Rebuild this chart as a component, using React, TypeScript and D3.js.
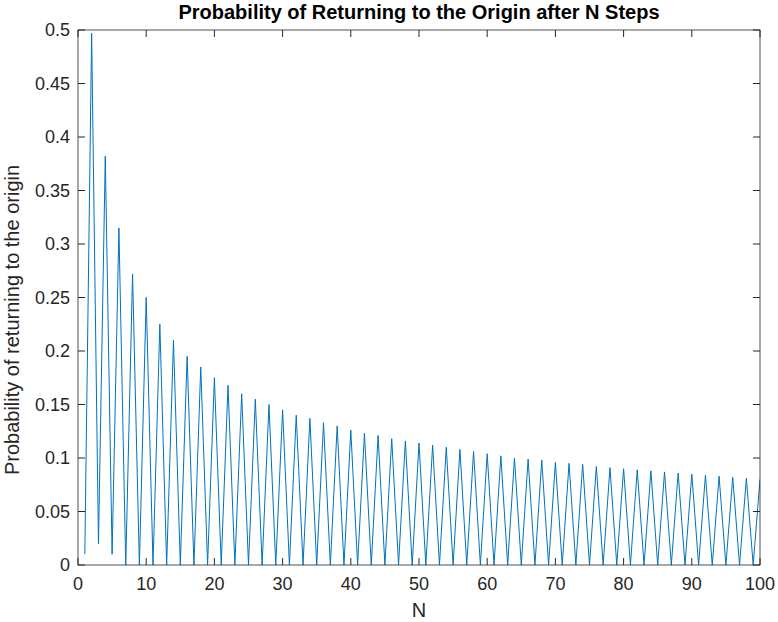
import { useEffect, useRef } from 'react';
import * as d3 from 'd3';

// peak probability at each even N (2, 4, ..., 100)
const evenPeaks = [
  0.497, 0.382, 0.315, 0.272, 0.25, 0.225, 0.21, 0.195, 0.185, 0.175,
  0.168, 0.16, 0.155, 0.15, 0.145, 0.14, 0.137, 0.133, 0.13, 0.126,
  0.123, 0.121, 0.118, 0.116, 0.114, 0.112, 0.11, 0.108, 0.106, 0.104,
  0.102, 0.1, 0.099, 0.098, 0.096, 0.095, 0.094, 0.092, 0.091, 0.09,
  0.089, 0.088, 0.087, 0.086, 0.085, 0.084, 0.083, 0.082, 0.081, 0.08,
];
// troughs at each odd N (1, 3, ..., 99)
const oddTroughs = [
  0.01, 0.02, 0.01, 0.0, 0.0, 0.0, 0.0, 0.0, 0.0, 0.0,
  0.0, 0.0, 0.0, 0.0, 0.0, 0.0, 0.0, 0.0, 0.0, 0.0,
  0.0, 0.0, 0.0, 0.0, 0.0, 0.0, 0.0, 0.0, 0.0, 0.0,
  0.0, 0.0, 0.0, 0.0, 0.0, 0.0, 0.0, 0.0, 0.0, 0.0,
  0.0, 0.0, 0.0, 0.0, 0.0, 0.0, 0.0, 0.0, 0.0, 0.0,
];
const xTicks = [0, 10, 20, 30, 40, 50, 60, 70, 80, 90, 100];
const yTicks = [0, 0.05, 0.1, 0.15, 0.2, 0.25, 0.3, 0.35, 0.4, 0.45, 0.5];

export default function App() {
  const svgRef = useRef<SVGSVGElement>(null);

  useEffect(() => {
    const W = 778, H = 622;
    const m = { left: 78, right: 760, top: 30, bottom: 565 };
    const svg = d3.select(svgRef.current).attr('width', W).attr('height', H);
    svg.selectAll('*').remove();
    const font = 'Liberation Sans, Arial, sans-serif';

    const x = d3.scaleLinear().domain([0, 100]).range([m.left, m.right]);
    const y = d3.scaleLinear().domain([0, 0.5]).range([m.bottom, m.top]);

    const data: [number, number][] = [];
    for (let i = 0; i < 50; i++) {
      data.push([2 * i + 1, oddTroughs[i]]);
      data.push([2 * i + 2, evenPeaks[i]]);
    }

    svg.append('rect').attr('width', W).attr('height', H).attr('fill', '#fff');

    const defs = svg.append('defs');
    defs.append('clipPath').attr('id', 'plot').append('rect')
      .attr('x', m.left).attr('y', m.top).attr('width', m.right - m.left).attr('height', m.bottom - m.top);
    defs.append('clipPath').attr('id', 'title').append('rect')
      .attr('x', 0).attr('y', 0).attr('width', 676).attr('height', 30);
    defs.append('clipPath').attr('id', 'ylab').append('rect')
      .attr('x', 0).attr('y', 130).attr('width', 40).attr('height', 400);

    svg.append('path')
      .datum(data)
      .attr('clip-path', 'url(#plot)')
      .attr('fill', 'none')
      .attr('stroke', '#0072BD')
      .attr('stroke-width', 1)
      .attr('d', d3.line<[number, number]>().x(d => x(d[0])).y(d => y(d[1]))(data));

    svg.append('rect')
      .attr('x', m.left).attr('y', m.top).attr('width', m.right - m.left).attr('height', m.bottom - m.top)
      .attr('fill', 'none').attr('stroke', '#262626').attr('stroke-width', 0.8);

    const tl = 7;
    xTicks.forEach(t => {
      svg.append('line').attr('x1', x(t)).attr('x2', x(t)).attr('y1', m.bottom).attr('y2', m.bottom - tl).attr('stroke', '#262626');
      svg.append('line').attr('x1', x(t)).attr('x2', x(t)).attr('y1', m.top).attr('y2', m.top + tl).attr('stroke', '#262626');
      svg.append('text').attr('x', x(t)).attr('y', m.bottom + 25).attr('text-anchor', 'middle')
        .attr('font-family', font).attr('font-size', 18).attr('fill', '#262626').text(t);
    });
    yTicks.forEach(t => {
      svg.append('line').attr('x1', m.left).attr('x2', m.left + tl).attr('y1', y(t)).attr('y2', y(t)).attr('stroke', '#262626');
      svg.append('line').attr('x1', m.right).attr('x2', m.right - tl).attr('y1', y(t)).attr('y2', y(t)).attr('stroke', '#262626');
      svg.append('text').attr('x', m.left - 8).attr('y', y(t) + 6).attr('text-anchor', 'end')
        .attr('font-family', font).attr('font-size', 18).attr('fill', '#262626').text(String(t));
    });

    svg.append('text').attr('x', 419).attr('y', 617).attr('text-anchor', 'middle')
      .attr('font-family', font).attr('font-size', 20).attr('fill', '#262626').text('N');

    svg.append('g').attr('clip-path', 'url(#ylab)').append('text')
      .attr('transform', `translate(19, 320) rotate(-90)`).attr('text-anchor', 'middle')
      .attr('font-family', font).attr('font-size', 20).attr('fill', '#262626')
      .text('Probability of returning to the origin');

    svg.append('g').attr('clip-path', 'url(#title)').append('text')
      .attr('x', 419).attr('y', 19).attr('text-anchor', 'middle')
      .attr('font-family', font).attr('font-size', 20).attr('font-weight', 'bold').attr('fill', '#000')
      .text('Probability of Returning to the Origin after N Steps');
  }, []);

  return <svg ref={svgRef} style={{ position: 'absolute', left: 0, top: 0, display: 'block' }} />;
}
